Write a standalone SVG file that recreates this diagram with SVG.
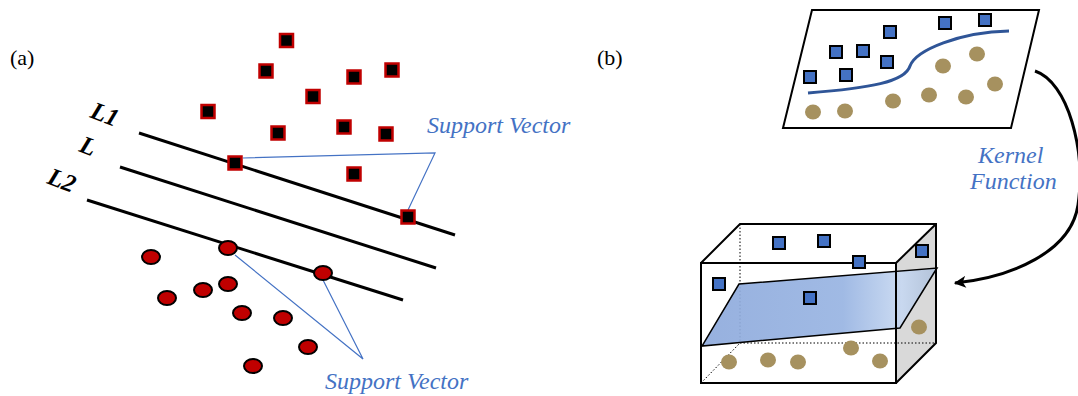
<svg xmlns="http://www.w3.org/2000/svg" width="1078" height="396" viewBox="0 0 1078 396">
<defs>
<style>
.lbl{font-family:"Liberation Serif",serif;font-size:22px;fill:#000}
.lname{font-family:"Liberation Serif",serif;font-size:25px;font-weight:bold;font-style:italic;fill:#000}
.note{font-family:"Liberation Serif",serif;font-size:24px;font-style:italic;fill:#4472C4}
.sep{stroke:#000;stroke-width:3;fill:none}
.sq{fill:#000;stroke:#C00000;stroke-width:2.5}
.ci{fill:#C00000;stroke:#000;stroke-width:2}
.lead{stroke:#4472C4;stroke-width:1.2;fill:none}
.bsq{fill:#4472C4;stroke:#000;stroke-width:2}
.tan{fill:#A6915F}
.edge{stroke:#000;stroke-width:2;fill:none}
.hid{stroke:#000;stroke-width:1;stroke-dasharray:1.5 2;fill:none}
</style>
<linearGradient id="pg" x1="0" y1="0" x2="1" y2="0">
<stop offset="0" stop-color="#8EAADC"/>
<stop offset="0.6" stop-color="#98B4E2"/>
<stop offset="0.85" stop-color="#C7D8F1"/>
<stop offset="1" stop-color="#AFC0D8"/>
</linearGradient>
<marker id="ah" viewBox="0 0 10 10" refX="9" refY="5" markerWidth="4.5" markerHeight="4" orient="auto" markerUnits="strokeWidth">
<path d="M0,0 L10,5 L0,10 L2.5,5 Z" fill="#000"/>
</marker>
</defs>
<rect width="1078" height="396" fill="#fff"/>

<g id="panel-a-label"><text class="lbl" x="10" y="65">(a)</text></g>

<g id="connectors">
<line class="sep" x1="139" y1="133" x2="455" y2="235"/>
<line class="sep" x1="120" y1="167" x2="436" y2="268"/>
<line class="sep" x1="87" y1="200" x2="403" y2="300"/>
<polyline class="lead" points="243,158 435,153 408,210"/>
<polyline class="lead" points="235,255 363,359 323,280"/>
<path d="M1035,71 C1068,82 1086,150 1078,205 C1071,252 1012,277 955,283" stroke="#000" stroke-width="3" fill="none" marker-end="url(#ah)"/>
</g>

<g id="line-labels">
<text class="lname" transform="translate(89,117) rotate(21)">L1</text>
<text class="lname" transform="translate(78,151) rotate(21)">L</text>
<text class="lname" transform="translate(46,183) rotate(21)">L2</text>
</g>

<g id="class-squares">
<rect class="sq" x="280" y="34" width="13" height="13"/>
<rect class="sq" x="259.5" y="64.5" width="13" height="13"/>
<rect class="sq" x="201.5" y="105" width="13" height="13"/>
<rect class="sq" x="271.5" y="126.5" width="13" height="13"/>
<rect class="sq" x="228.5" y="156.5" width="13" height="13"/>
<rect class="sq" x="306.5" y="90" width="13" height="13"/>
<rect class="sq" x="347.5" y="70.5" width="13" height="13"/>
<rect class="sq" x="385.5" y="63.5" width="13" height="13"/>
<rect class="sq" x="337.5" y="120.5" width="13" height="13"/>
<rect class="sq" x="379.5" y="127.5" width="13" height="13"/>
<rect class="sq" x="347.5" y="167.5" width="13" height="13"/>
<rect class="sq" x="401.5" y="210.5" width="13" height="13"/>
</g>

<g id="class-circles">
<ellipse class="ci" cx="151" cy="257" rx="9" ry="7"/>
<ellipse class="ci" cx="228" cy="248" rx="9" ry="7"/>
<ellipse class="ci" cx="323" cy="273" rx="9" ry="7"/>
<ellipse class="ci" cx="167" cy="298" rx="9" ry="7"/>
<ellipse class="ci" cx="203" cy="290" rx="9" ry="7"/>
<ellipse class="ci" cx="228" cy="284" rx="9" ry="7"/>
<ellipse class="ci" cx="242" cy="313" rx="9" ry="7"/>
<ellipse class="ci" cx="283" cy="318" rx="9" ry="7"/>
<ellipse class="ci" cx="308" cy="347" rx="9" ry="7"/>
<ellipse class="ci" cx="253" cy="366" rx="9" ry="7"/>
</g>

<g id="support-vector-top"><text class="note" x="427" y="133">Support Vector</text></g>
<g id="support-vector-bottom"><text class="note" x="325" y="389">Support Vector</text></g>

<g id="panel-b-label"><text class="lbl" x="597" y="65">(b)</text></g>

<g id="input-space">
<polygon class="edge" points="812,10 1039,10 1011,128 783,128"/>
<path d="M808,93 C870,88 905,82 910,66 C916,50 960,32 1009,31" stroke="#2F5597" stroke-width="3" fill="none"/>
<rect class="bsq" x="804" y="71" width="12" height="12"/>
<rect class="bsq" x="830" y="46" width="12" height="12"/>
<rect class="bsq" x="840" y="69" width="12" height="12"/>
<rect class="bsq" x="857" y="45" width="12" height="12"/>
<rect class="bsq" x="884" y="26" width="12" height="12"/>
<rect class="bsq" x="881" y="56" width="12" height="12"/>
<rect class="bsq" x="939" y="17" width="12" height="12"/>
<rect class="bsq" x="979" y="14" width="12" height="12"/>
<ellipse class="tan" cx="813" cy="112" rx="8" ry="7.5"/>
<ellipse class="tan" cx="845" cy="111" rx="8" ry="7.5"/>
<ellipse class="tan" cx="893" cy="101" rx="8" ry="7.5"/>
<ellipse class="tan" cx="929" cy="95" rx="8" ry="7.5"/>
<ellipse class="tan" cx="966" cy="97" rx="8" ry="7.5"/>
<ellipse class="tan" cx="943" cy="66" rx="8" ry="7.5"/>
<ellipse class="tan" cx="977" cy="54" rx="8" ry="7.5"/>
<ellipse class="tan" cx="995" cy="84" rx="8" ry="7.5"/>
</g>

<g id="kernel-label">
<text class="note" x="978" y="163">Kernel</text>
<text class="note" x="970" y="189">Function</text>
</g>

<g id="feature-space">
<polygon points="896,263 936,224 936,343 896,383" fill="#D9D9D9"/>
<polyline class="hid" points="740,224 740,343 936,343"/>
<line class="hid" x1="701" y1="383" x2="740" y2="343"/>
<ellipse class="tan" cx="729" cy="362" rx="8" ry="7.5"/>
<ellipse class="tan" cx="768" cy="360" rx="8" ry="7.5"/>
<ellipse class="tan" cx="798" cy="362" rx="8" ry="7.5"/>
<ellipse class="tan" cx="851" cy="348" rx="8" ry="7.5"/>
<ellipse class="tan" cx="880" cy="361" rx="8" ry="7.5"/>
<ellipse class="tan" cx="919" cy="327" rx="8" ry="7.5"/>
<polygon points="739,284 937,268 900,328 702,346" fill="url(#pg)" fill-opacity="0.92" stroke="#000" stroke-width="1.5"/>
<polyline class="edge" points="701,263 740,224 936,224 936,343 896,383"/>
<rect class="edge" x="701" y="263" width="195" height="120"/>
<line class="edge" x1="896" y1="263" x2="936" y2="224"/>
<rect class="bsq" x="773" y="237" width="12" height="12"/>
<rect class="bsq" x="818" y="235" width="12" height="12"/>
<rect class="bsq" x="853" y="256" width="12" height="12"/>
<rect class="bsq" x="916" y="245" width="12" height="12"/>
<rect class="bsq" x="713" y="278" width="12" height="12"/>
<rect class="bsq" x="804" y="292" width="12" height="12"/>
</g>
</svg>
